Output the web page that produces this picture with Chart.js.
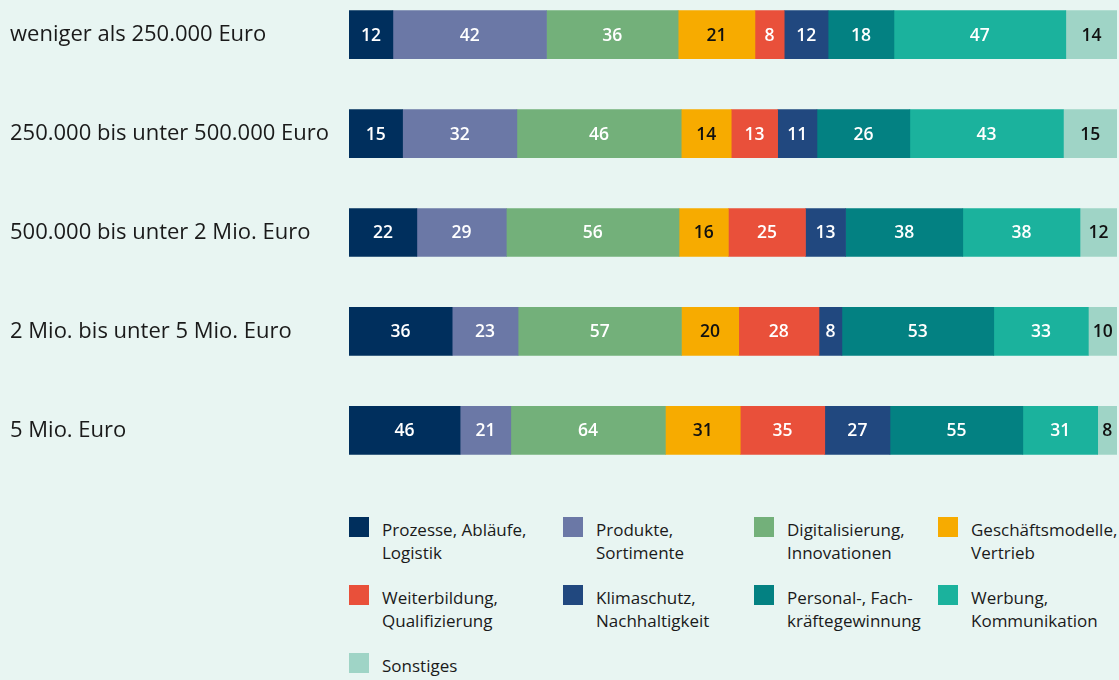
<!DOCTYPE html>
<html lang="de">
<head>
<meta charset="utf-8">
<script src="https://cdn.jsdelivr.net/npm/chart.js@4"></script>
<style>
    html, body { margin: 0; padding: 0; }
    body {
        width: 1119px; height: 680px; overflow: hidden; position: relative;
        background: #e8f5f2; font-family: "Open Sans", sans-serif; color: #1a1a1a;
    }
    #chart-box { position: absolute; left: 0; top: -28px; width: 1119px; height: 521px; }
    #legend { position: absolute; left: 349px; top: 517px; width: 770px; }
    .item { position: absolute; font-size: 17px; line-height: 23px; }
    .item span.sw { position: absolute; left: 0; top: 0; width: 20px; height: 20px; }
    .item div { position: absolute; left: 33px; top: 1px; white-space: nowrap; }
</style>
</head>
<body>
<div id="chart-box"><canvas id="bar-chart"></canvas></div>
<div id="legend"></div>
<script>
const categories = [
    "weniger als 250.000 Euro",
    "250.000 bis unter 500.000 Euro",
    "500.000 bis unter 2 Mio. Euro",
    "2 Mio. bis unter 5 Mio. Euro",
    "5 Mio. Euro"
];

const prozesse = [12, 15, 22, 36, 46];
const produkte = [42, 32, 29, 23, 21];
const digitalisierung = [36, 46, 56, 57, 64];
const geschaeftsmodelle = [21, 14, 16, 20, 31];
const weiterbildung = [8, 13, 25, 28, 35];
const klimaschutz = [12, 11, 13, 8, 27];
const personal = [18, 26, 38, 53, 55];
const werbung = [47, 43, 38, 33, 31];
const sonstiges = [14, 15, 12, 10, 8];

const seriesNames = [
    ["Prozesse, Abläufe,", "Logistik"],
    ["Produkte,", "Sortimente"],
    ["Digitalisierung,", "Innovationen"],
    ["Geschäftsmodelle,", "Vertrieb"],
    ["Weiterbildung,", "Qualifizierung"],
    ["Klimaschutz,", "Nachhaltigkeit"],
    ["Personal-, Fach-", "kräftegewinnung"],
    ["Werbung,", "Kommunikation"],
    ["Sonstiges"]
];
const seriesValues = [prozesse, produkte, digitalisierung, geschaeftsmodelle, weiterbildung, klimaschutz, personal, werbung, sonstiges];
const colors = ["#002f5d", "#6b78a6", "#73b07a", "#f7ab00", "#e9503a", "#21487f", "#038182", "#1bb29d", "#9fd4c6"];
const labelColors = ["#fff", "#fff", "#fff", "#111", "#fff", "#fff", "#fff", "#fff", "#111"];

// every bar is stretched to full width, the labels show the raw counts
const rowTotals = categories.map((c, i) => seriesValues.reduce((s, arr) => s + arr[i], 0));

const datasets = seriesValues.map((vals, k) => ({
    label: seriesNames[k].join(" "),
    data: vals.map((v, i) => v / rowTotals[i] * 100),
    raw: vals,
    backgroundColor: colors[k],
    borderWidth: 0,
    barThickness: 48
}));

const valueLabels = {
    id: "valueLabels",
    afterDatasetsDraw(chart) {
        const ctx = chart.ctx;
        ctx.save();
        ctx.font = "600 17.5px 'Open Sans', sans-serif";
        ctx.textAlign = "center";
        ctx.textBaseline = "middle";
        chart.data.datasets.forEach((ds, k) => {
            chart.getDatasetMeta(k).data.forEach((bar, i) => {
                ctx.fillStyle = labelColors[k];
                ctx.fillText(String(ds.raw[i]), (bar.x + bar.base) / 2, bar.y + 1);
            });
        });
        ctx.restore();
    }
};

new Chart(document.getElementById("bar-chart").getContext("2d"), {
    type: "bar",
    data: { labels: categories, datasets },
    plugins: [valueLabels],
    options: {
        indexAxis: "y",
        responsive: true,
        maintainAspectRatio: false,
        animation: false,
        layout: { padding: { left: 10, right: 2, top: 0, bottom: 0 } },
        plugins: { legend: { display: false }, tooltip: { enabled: false } },
        scales: {
            x: { stacked: true, min: 0, max: 100, display: false },
            y: {
                stacked: true,
                grid: { display: false },
                border: { display: false },
                afterFit(scale) { scale.width = 339; },
                ticks: {
                    crossAlign: "far",
                    color: "#1a1a1a",
                    font: { family: "'Open Sans', sans-serif", size: 22 },
                    padding: 0
                }
            }
        }
    }
});

// legend, 4 columns
const legendCols = [0, 214, 405, 589];
const legend = document.getElementById("legend");
seriesNames.forEach((name, k) => {
    const item = document.createElement("div");
    item.className = "item";
    item.style.left = legendCols[k % 4] + "px";
    item.style.top = Math.floor(k / 4) * 68 + "px";
    item.innerHTML = '<span class="sw" style="background:' + colors[k] + '"></span><div>' + name.join("<br>") + "</div>";
    legend.appendChild(item);
});
</script>
</body>
</html>
